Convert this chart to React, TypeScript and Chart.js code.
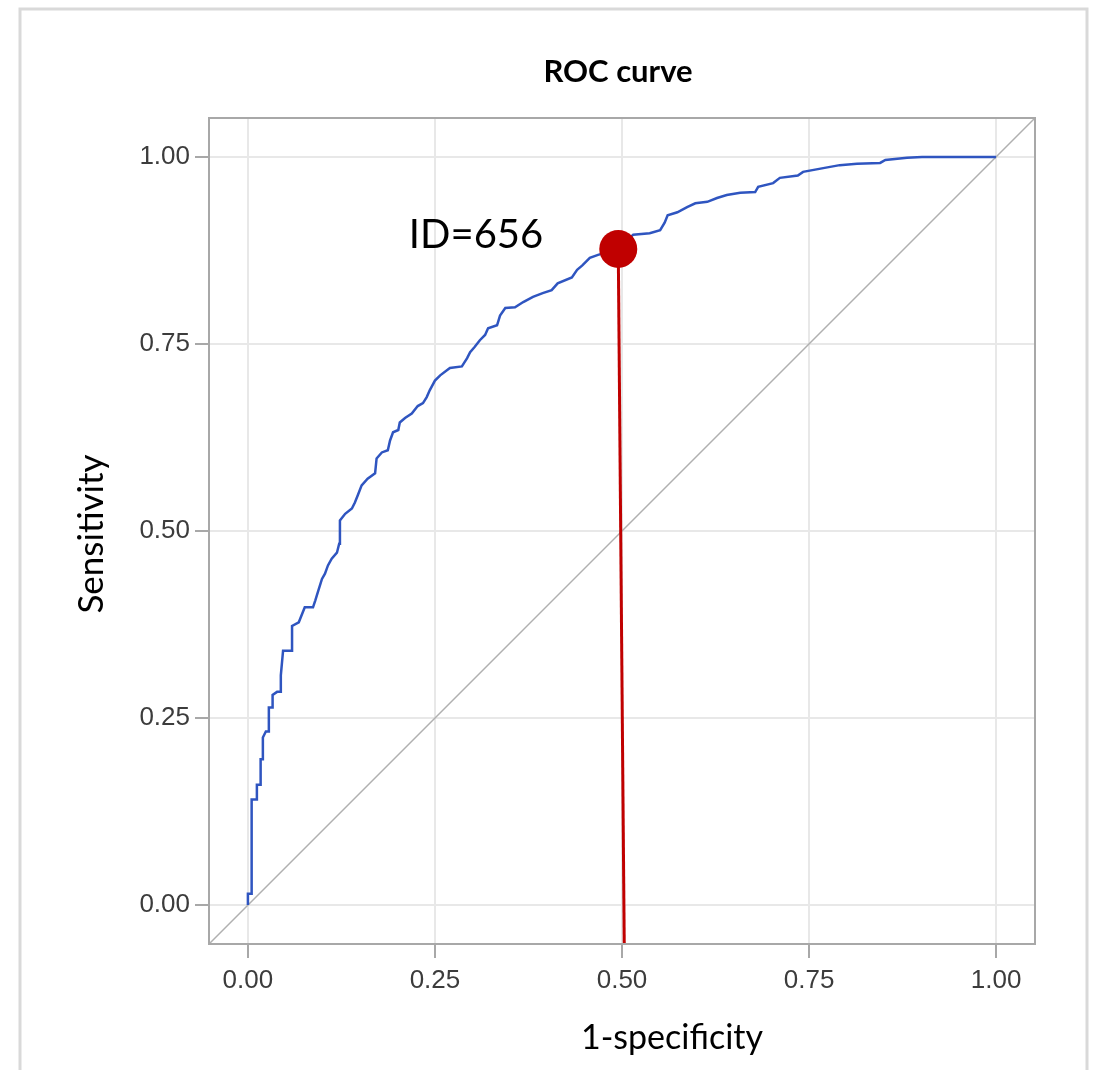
import React, { useEffect, useRef } from 'react';
import { Chart, registerables } from 'chart.js';

Chart.register(...registerables);

// ROC curve points (1-specificity, sensitivity)
const rocFpr = [
  0, 0, 0.005, 0.005, 0.012, 0.012, 0.017, 0.017, 0.02, 0.02, 0.024, 0.028, 0.028, 0.033, 0.033, 0.039,
  0.044, 0.044, 0.047, 0.059, 0.059, 0.068, 0.076, 0.087, 0.09, 0.094, 0.099, 0.103, 0.107, 0.112, 0.119,
  0.122, 0.123, 0.13, 0.139, 0.143, 0.147, 0.152, 0.16, 0.17, 0.172, 0.179, 0.187, 0.19, 0.194, 0.201,
  0.203, 0.21, 0.219, 0.227, 0.234, 0.239, 0.243, 0.25, 0.257, 0.27, 0.286, 0.293, 0.297, 0.303, 0.31,
  0.317, 0.321, 0.333, 0.337, 0.344, 0.357, 0.368, 0.381, 0.394, 0.406, 0.414, 0.433, 0.44, 0.447, 0.457,
  0.468, 0.495, 0.515, 0.537, 0.551, 0.557, 0.561, 0.574, 0.587, 0.598, 0.614, 0.627, 0.64, 0.658, 0.678,
  0.682, 0.702, 0.711, 0.735, 0.742, 0.769, 0.791, 0.814, 0.845, 0.852, 0.881, 0.901, 1.0,
];
const rocTpr = [
  0, 0.015, 0.015, 0.141, 0.141, 0.161, 0.161, 0.195, 0.195, 0.224, 0.232, 0.232, 0.264, 0.264, 0.281, 0.285,
  0.285, 0.307, 0.34, 0.34, 0.373, 0.378, 0.398, 0.398, 0.407, 0.42, 0.436, 0.443, 0.454, 0.463, 0.471,
  0.483, 0.514, 0.523, 0.53, 0.538, 0.548, 0.561, 0.57, 0.577, 0.597, 0.605, 0.608, 0.621, 0.632, 0.635,
  0.645, 0.651, 0.657, 0.667, 0.671, 0.679, 0.688, 0.701, 0.708, 0.718, 0.72, 0.731, 0.739, 0.746, 0.755,
  0.762, 0.771, 0.775, 0.788, 0.798, 0.799, 0.806, 0.813, 0.818, 0.822, 0.831, 0.839, 0.849, 0.855, 0.865,
  0.869, 0.877, 0.896, 0.898, 0.902, 0.912, 0.922, 0.926, 0.933, 0.938, 0.94, 0.945, 0.949, 0.952, 0.953,
  0.96, 0.965, 0.972, 0.975, 0.98, 0.985, 0.989, 0.991, 0.992, 0.996, 0.999, 1.0, 1.0,
];

// Highlighted cut-off point and its drop line
const cutoffFpr = [0.495];
const cutoffTpr = [0.877];
const dropLineFpr = [0.495, 0.503];
const dropLineTpr = [0.877, -0.052];
const cutoffLabel = 'ID=656';

// Chance diagonal (corner to corner)
const diagonalVals = [-0.052, 1.052];

// Axes
const axisMin = -0.052;
const axisMax = 1.052;
const tickValues = [0, 0.25, 0.5, 0.75, 1];
const tickLabels = ['0.00', '0.25', '0.50', '0.75', '1.00'];
const chartTitle = 'ROC curve';
const xTitle = '1-specificity';
const yTitle = 'Sensitivity';

const W = 1094;
const H = 1070;

export default function App() {
  const ref = useRef<HTMLCanvasElement | null>(null);

  useEffect(() => {
    const canvas = ref.current;
    if (!canvas) return;

    const decor = {
      id: 'decor',
      afterDraw(chart: any) {
        const { ctx, chartArea: ca, scales } = chart;
        ctx.save();
        // plot frame (top/right completes the box)
        ctx.strokeStyle = '#a8a8a8';
        ctx.lineWidth = 2;
        ctx.strokeRect(ca.left, ca.top, ca.right - ca.left, ca.bottom - ca.top);

        // outer panel frame
        ctx.strokeStyle = '#d9d9d9';
        ctx.lineWidth = 3;
        ctx.beginPath();
        ctx.moveTo(20, H);
        ctx.lineTo(20, 9);
        ctx.lineTo(1087, 9);
        ctx.lineTo(1087, H);
        ctx.stroke();

        ctx.fillStyle = '#000';
        // title
        ctx.font = 'bold 31px Lato';
        ctx.textAlign = 'center';
        ctx.textBaseline = 'middle';
        ctx.fillText(chartTitle, (ca.left + ca.right) / 2 - 4, 72);

        // x title
        ctx.font = '34px Lato';
        ctx.fillText(xTitle, (ca.left + ca.right) / 2 + 50, 1038);

        // y title
        ctx.save();
        ctx.font = '35px Lato';
        ctx.translate(92, (ca.top + ca.bottom) / 2 + 3);
        ctx.rotate(-Math.PI / 2);
        ctx.fillText(yTitle, 0, 0);
        ctx.restore();

        // cut-off label
        const px = scales.x.getPixelForValue(cutoffFpr[0]);
        const py = scales.y.getPixelForValue(cutoffTpr[0]);
        ctx.font = '40px Lato';
        ctx.textAlign = 'right';
        ctx.fillText(cutoffLabel, px - 75, py - 14);
        ctx.restore();
      },
    };

    const toPts = (xs: number[], ys: number[]) => xs.map((x, i) => ({ x, y: ys[i] }));

    const setTicks = (scale: any) => {
      scale.ticks = tickValues.map((v) => ({ value: v }));
    };

    const chart = new Chart(canvas, {
      type: 'scatter',
      data: {
        datasets: [
          {
            label: 'cutoff',
            data: toPts(cutoffFpr, cutoffTpr),
            showLine: false,
            pointRadius: 19,
            pointBackgroundColor: '#c00000',
            pointBorderColor: '#c00000',
            pointBorderWidth: 0,
            order: 0,
          },
          {
            label: 'drop',
            data: toPts(dropLineFpr, dropLineTpr),
            showLine: true,
            borderColor: '#c00000',
            borderWidth: 3,
            pointRadius: 0,
            order: 1,
          },
          {
            label: 'roc',
            data: toPts(rocFpr, rocTpr),
            showLine: true,
            borderColor: '#2f55c0',
            borderWidth: 2.5,
            pointRadius: 0,
            tension: 0,
            order: 2,
          },
          {
            label: 'diag',
            data: toPts(diagonalVals, diagonalVals),
            showLine: true,
            borderColor: '#b0b0b0',
            borderWidth: 1.5,
            pointRadius: 0,
            order: 3,
          },
        ],
      },
      options: {
        responsive: false,
        animation: false,
        devicePixelRatio: 1,
        layout: { padding: { left: 0, right: W - 1035, top: 118, bottom: 0 } },
        plugins: {
          legend: { display: false },
          tooltip: { enabled: false },
          title: { display: false },
        },
        scales: {
          x: {
            type: 'linear',
            min: axisMin,
            max: axisMax,
            afterBuildTicks: setTicks,
            afterFit: (s: any) => {
              s.height = H - 944;
            },
            grid: {
              color: '#e8e8e8',
              lineWidth: 2,
              tickColor: '#a8a8a8',
              tickLength: 14,
              tickWidth: 2,
            },
            border: { display: true, color: '#a8a8a8', width: 2 },
            ticks: {
              padding: 7,
              color: '#3c3c3c',
              font: { family: 'Liberation Sans', size: 26 },
              maxRotation: 0,
              callback: (v: any) => tickLabels[tickValues.indexOf(Number(v))] ?? '',
            },
          },
          y: {
            type: 'linear',
            min: axisMin,
            max: axisMax,
            afterBuildTicks: setTicks,
            afterFit: (s: any) => {
              s.width = 209;
            },
            grid: {
              color: '#e8e8e8',
              lineWidth: 2,
              tickColor: '#a8a8a8',
              tickLength: 14,
              tickWidth: 2,
            },
            border: { display: true, color: '#a8a8a8', width: 2 },
            ticks: {
              padding: 5,
              color: '#3c3c3c',
              font: { family: 'Liberation Sans', size: 26 },
              callback: (v: any) => tickLabels[tickValues.indexOf(Number(v))] ?? '',
            },
          },
        },
      },
      plugins: [decor],
    } as any);

    return () => chart.destroy();
  }, []);

  return (
    <div style={{ position: 'absolute', left: 0, top: 0, width: W, height: H, background: '#fff' }}>
      <canvas ref={ref} width={W} height={H} style={{ width: W, height: H, display: 'block' }} />
    </div>
  );
}
